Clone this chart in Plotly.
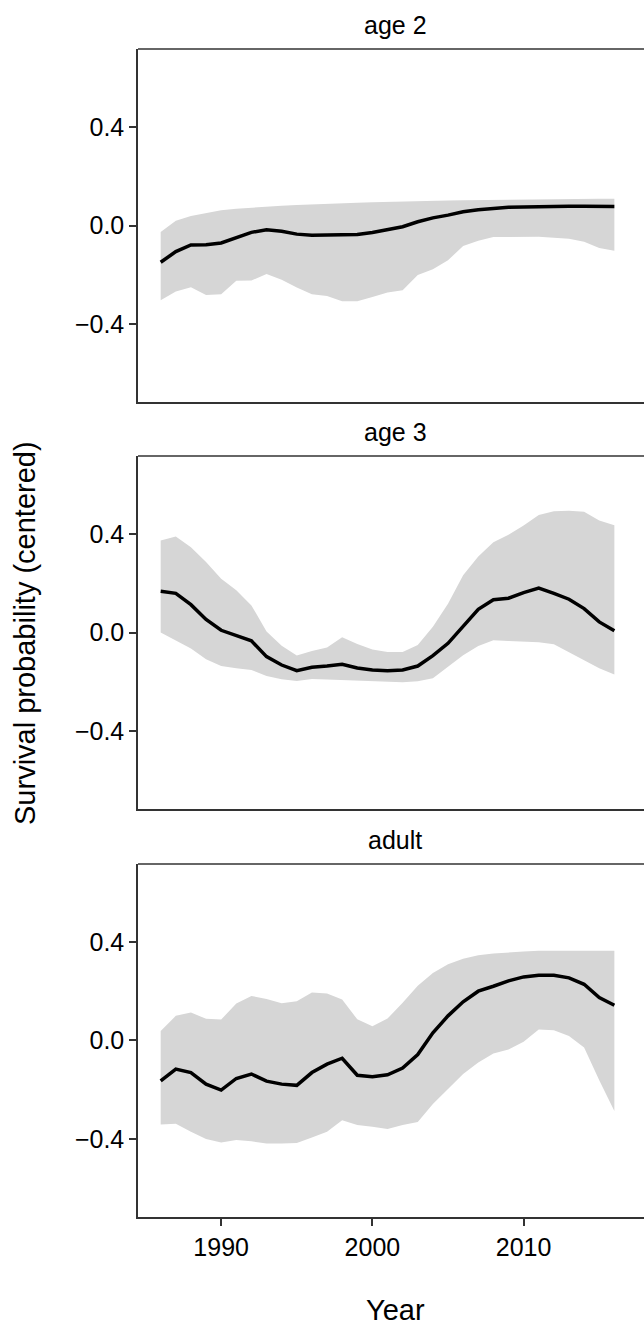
import plotly.graph_objects as go

# Survival probability (centered) by year for three age classes:
# posterior mean with the lower/upper credible band.
years = list(range(1986, 2017))

age2_mean = [-0.149, -0.106, -0.079, -0.078, -0.071, -0.048, -0.028, -0.017, -0.023, -0.035,
             -0.040, -0.039, -0.038, -0.036, -0.028, -0.017, -0.005, 0.015, 0.031, 0.042,
             0.056, 0.064, 0.070, 0.074, 0.075, 0.077, 0.077, 0.078, 0.078, 0.078, 0.077]
age2_lower = [-0.303, -0.268, -0.250, -0.282, -0.279, -0.224, -0.223, -0.197, -0.220, -0.252,
              -0.279, -0.286, -0.307, -0.307, -0.290, -0.272, -0.263, -0.201, -0.177, -0.141,
              -0.083, -0.062, -0.047, -0.046, -0.046, -0.046, -0.050, -0.054, -0.066, -0.091, -0.102]
age2_upper = [-0.026, 0.019, 0.039, 0.051, 0.062, 0.068, 0.073, 0.077, 0.080, 0.083,
              0.086, 0.088, 0.090, 0.092, 0.094, 0.096, 0.097, 0.099, 0.100, 0.101,
              0.102, 0.103, 0.104, 0.105, 0.106, 0.107, 0.107, 0.108, 0.108, 0.109, 0.109]

age3_mean = [0.167, 0.159, 0.113, 0.053, 0.009, -0.011, -0.034, -0.098, -0.132, -0.155,
             -0.141, -0.136, -0.129, -0.144, -0.152, -0.155, -0.152, -0.136, -0.094, -0.044,
             0.026, 0.094, 0.133, 0.139, 0.162, 0.180, 0.159, 0.135, 0.097, 0.043, 0.007]
age3_lower = [0.000, -0.031, -0.065, -0.109, -0.136, -0.145, -0.152, -0.176, -0.190, -0.197,
              -0.189, -0.191, -0.193, -0.195, -0.199, -0.202, -0.202, -0.198, -0.186, -0.139,
              -0.092, -0.055, -0.031, -0.034, -0.036, -0.040, -0.048, -0.081, -0.112, -0.145, -0.170]
age3_upper = [0.373, 0.389, 0.346, 0.286, 0.218, 0.171, 0.110, 0.004, -0.054, -0.093,
              -0.075, -0.061, -0.019, -0.047, -0.069, -0.079, -0.079, -0.051, 0.023, 0.117,
              0.232, 0.308, 0.366, 0.397, 0.434, 0.477, 0.492, 0.494, 0.490, 0.454, 0.435]

adult_mean = [-0.164, -0.116, -0.130, -0.177, -0.201, -0.154, -0.136, -0.165, -0.177, -0.182,
              -0.130, -0.096, -0.072, -0.141, -0.147, -0.139, -0.112, -0.057, 0.031, 0.100,
              0.157, 0.200, 0.220, 0.242, 0.258, 0.265, 0.265, 0.254, 0.228, 0.174, 0.143]
adult_lower = [-0.341, -0.338, -0.370, -0.400, -0.414, -0.404, -0.409, -0.418, -0.418, -0.416,
               -0.393, -0.370, -0.323, -0.343, -0.350, -0.359, -0.343, -0.331, -0.258, -0.199,
               -0.136, -0.089, -0.053, -0.036, -0.005, 0.045, 0.042, 0.018, -0.028, -0.161, -0.286]
adult_upper = [0.039, 0.100, 0.114, 0.088, 0.085, 0.150, 0.181, 0.168, 0.151, 0.159,
               0.195, 0.191, 0.166, 0.086, 0.058, 0.089, 0.153, 0.222, 0.274, 0.309,
               0.332, 0.346, 0.353, 0.358, 0.361, 0.364, 0.364, 0.364, 0.364, 0.364, 0.364]

panels = ["age 2", "age 3", "adult"]
means = [age2_mean, age3_mean, adult_mean]
lowers = [age2_lower, age3_lower, adult_lower]
uppers = [age2_upper, age3_upper, adult_upper]

y_ticks = [-0.4, 0.0, 0.4]
x_ticks = [1990, 2000, 2010]

FONT = "Liberation Sans, Arial, Helvetica, sans-serif"
AXIS_COL = "#333333"
BAND_COL = "#d6d6d6"

# vertical domains (paper fractions), top panel first
domains = [[0.69777, 1.0], [0.34932, 0.65154], [0.0, 0.30223]]
# horizontal centre of the panels (they run on past the right edge)
TITLE_X = 0.508

fig = go.Figure()
for i, name in enumerate(panels):
    ax = "" if i == 0 else str(i + 1)
    fig.add_trace(go.Scatter(x=years, y=lowers[i], mode="lines", line=dict(width=0),
                             xaxis="x" + ax, yaxis="y" + ax, showlegend=False,
                             hoverinfo="skip"))
    fig.add_trace(go.Scatter(x=years, y=uppers[i], mode="lines", line=dict(width=0),
                             fill="tonexty", fillcolor=BAND_COL,
                             xaxis="x" + ax, yaxis="y" + ax, showlegend=False,
                             hoverinfo="skip"))
    fig.add_trace(go.Scatter(x=years, y=means[i], mode="lines",
                             line=dict(color="black", width=3.5),
                             xaxis="x" + ax, yaxis="y" + ax, showlegend=False,
                             name=name))

layout = dict(
    width=644, height=1325,
    margin=dict(l=138, r=0, t=49, b=108),
    paper_bgcolor="white", plot_bgcolor="white",
    font=dict(family=FONT, color="black"),
    showlegend=False,
)

shapes = []
annotations = []
for i, name in enumerate(panels):
    key = "" if i == 0 else str(i + 1)
    bottom = i == len(panels) - 1
    layout["xaxis" + key] = dict(
        domain=[0, 1], range=[1984.5, 2017.96], anchor="y" + key,
        showline=True, linecolor=AXIS_COL, linewidth=1.5,
        showgrid=False, zeroline=False,
        tickmode="array", tickvals=x_ticks,
        ticks="outside" if bottom else "", ticklen=7, tickwidth=1.5, tickcolor=AXIS_COL,
        showticklabels=bottom, tickfont=dict(size=25, color="black"),
        matches=None if i == 0 else "x",
    )
    layout["yaxis" + key] = dict(
        domain=domains[i], range=[-0.716, 0.716], anchor="x" + key,
        showline=True, linecolor=AXIS_COL, linewidth=1.5,
        showgrid=False, zeroline=False,
        tickmode="array", tickvals=y_ticks, tickformat=".1f",
        ticks="outside", ticklen=7, tickwidth=1.5, tickcolor=AXIS_COL,
        tickfont=dict(size=25, color="black"),
    )
    # top border of the panel
    shapes.append(dict(type="line", xref="paper", yref="paper",
                       x0=0, x1=1, y0=domains[i][1], y1=domains[i][1],
                       line=dict(color=AXIS_COL, width=1.5)))
    # panel strip title
    annotations.append(dict(text=name, xref="paper", yref="paper",
                            x=TITLE_X, y=domains[i][1], xanchor="center", yanchor="middle",
                            yshift=24, showarrow=False,
                            font=dict(size=25, color="black", family=FONT)))

annotations.append(dict(text="Survival probability (centered)", xref="paper", yref="paper",
                        x=0, y=0.5, xanchor="center", yanchor="middle", xshift=-113,
                        textangle=-90, showarrow=False,
                        font=dict(size=29, color="black", family=FONT)))
annotations.append(dict(text="Year", xref="paper", yref="paper",
                        x=TITLE_X, y=0, xanchor="center", yanchor="middle", yshift=-93,
                        showarrow=False, font=dict(size=29, color="black", family=FONT)))

layout["shapes"] = shapes
layout["annotations"] = annotations
fig.update_layout(**layout)

fig.write_html("out.html")
